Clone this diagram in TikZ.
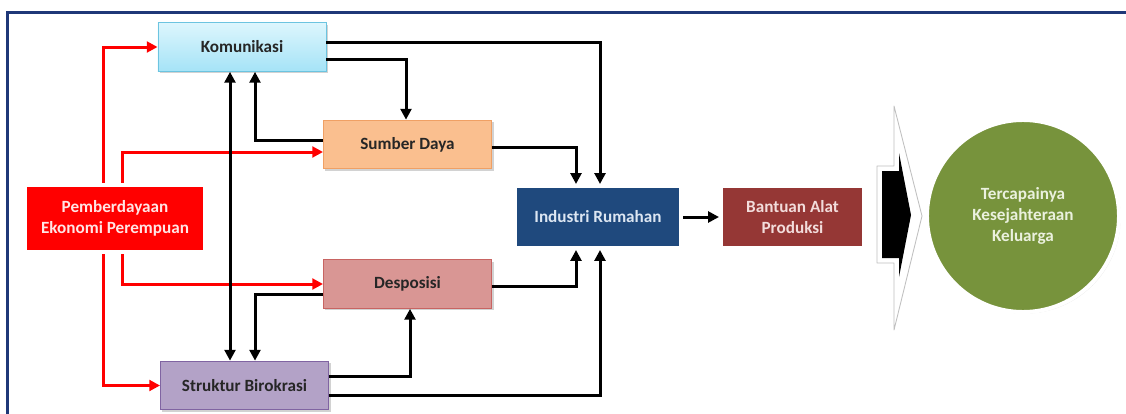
\documentclass[tikz,border=0pt]{standalone}
\usepackage{fontspec}
\setmainfont{Carlito}
\usetikzlibrary{positioning, calc, arrows.meta, shadows}

\definecolor{framecol}{RGB}{31,56,120}
\definecolor{komtop}{RGB}{221,246,253}
\definecolor{kombot}{RGB}{165,227,247}
\definecolor{komline}{RGB}{108,196,224}
\definecolor{sumfill}{RGB}{250,191,143}
\definecolor{sumline}{RGB}{240,160,100}
\definecolor{desfill}{RGB}{217,150,148}
\definecolor{desline}{RGB}{200,100,98}
\definecolor{strfill}{RGB}{179,162,199}
\definecolor{strline}{RGB}{128,100,162}
\definecolor{indfill}{RGB}{31,73,125}
\definecolor{banfill}{RGB}{149,55,53}
\definecolor{circfill}{RGB}{119,147,60}

\tikzset{
	box/.style={rectangle, draw, line width=0.6pt, minimum width=4.2cm, minimum height=1.22cm,
		font=\fontsize{12.2}{14.8}\selectfont\bfseries, text=black!85,
		drop shadow={opacity=0.35, shadow xshift=0.05cm, shadow yshift=-0.05cm}},
	whitebox/.style={rectangle, draw=white, line width=0.1cm, align=center,
		font=\fontsize{12.2}{14.8}\selectfont\bfseries,
		drop shadow={opacity=0.2, shadow xshift=0.04cm, shadow yshift=-0.04cm}},
	blkarr/.style={draw=black, line width=0.075cm, -{Triangle[length=0.27cm, width=0.27cm]}},
	redarr/.style={draw=red, line width=0.075cm, -{Triangle[length=0.27cm, width=0.27cm]}}
}

\begin{document}
\begin{tikzpicture}[x=0.025cm, y=-0.025cm]
\clip (0, 0) rectangle (1126, 414);
\fill[white] (0, 0) rectangle (1126, 414);
\draw[framecol, line width=0.065cm] (7.5, 12.5) rectangle (1160, 440);

\node[box, top color=komtop, bottom color=kombot, draw=komline] (kom) at (242, 47) {Komunikasi};
\node[box, fill=sumfill, draw=sumline] (sum) at (407.5, 144.5) {Sumber Daya};
\node[box, fill=desfill, draw=desline] (des) at (407.5, 284) {Desposisi};
\node[box, fill=strfill, draw=strline] (str) at (244.5, 385.5) {Struktur Birokrasi};
\node[whitebox, fill=red, text=red!10, minimum width=4.5cm, minimum height=1.675cm] (pem) at (115, 218.5)
	{Pemberdayaan\\Ekonomi Perempuan};
\node[whitebox, fill=indfill, text={rgb,255:red,220;green,230;blue,242}, minimum width=4.15cm, minimum height=1.55cm]
	(ind) at (598, 217) {Industri Rumahan};
\node[whitebox, fill=banfill, text={rgb,255:red,242;green,220;blue,219}, minimum width=3.575cm, minimum height=1.55cm]
	(ban) at (792.5, 217) {Bantuan Alat\\Produksi};
\node[whitebox, circle, fill=circfill, text={rgb,255:red,235;green,241;blue,222}, minimum size=4.8cm]
	(kel) at (1023, 216) {Tercapainya\\Kesejahteraan\\Keluarga};

% big arrow
\filldraw[fill=white, draw=black!25, line width=0.6pt, line join=round] (877, 166) -- (894, 166) -- (894, 106)
	-- (922, 216) -- (894, 330) -- (894, 263) -- (877, 263) -- cycle;
\fill[black] (882, 171) -- (899, 171) -- (899, 153) -- (911, 215) -- (899, 277) -- (899, 258)
	-- (882, 258) -- cycle;

\coordinate (jl) at ($(kom.south)+(-12, 0)$);
\coordinate (jr) at ($(kom.south)+(13, 0)$);

\draw[redarr] ($(pem.north)+(-12, 0)$) |- (kom.west);
\draw[redarr] ($(pem.north)+(7.5, 0)$) |- ($(sum.west)+(0, 7.5)$);
\draw[redarr] ($(pem.south)+(7.5, 0)$) |- (des.west);
\draw[redarr] ($(pem.south)+(-12, 0)$) |- (str.west);

\draw[blkarr] ($(kom.east)+(0, -5)$) -| ($(ind.north)+(2, 0)$);
\draw[blkarr] ($(kom.east)+(0, 12)$) -| ($(sum.north)+(-1.5, 0)$);
\draw[blkarr] ($(sum.west)+(0, -4.5)$) -| (jr);
\draw[blkarr, {Triangle[length=0.27cm, width=0.27cm]}-{Triangle[length=0.27cm, width=0.27cm]}] (jl) -- (jl |- str.north);
\draw[blkarr] ($(sum.east)+(0, 2.5)$) -| ($(ind.north)+(-22, 0)$);
\draw[blkarr] ($(des.west)+(0, 10)$) -| (jr |- str.north);
\draw[blkarr] ($(str.east)+(0, -9.5)$) -| ($(des.south)+(2.5, 0)$);
\draw[blkarr] ($(str.east)+(0, 9.5)$) -| ($(ind.south)+(2, 0)$);
\draw[blkarr] ($(des.east)+(0, 2)$) -| ($(ind.south)+(-22, 0)$);
\draw[blkarr] (ind) -- (ban);
\end{tikzpicture}
\end{document}
